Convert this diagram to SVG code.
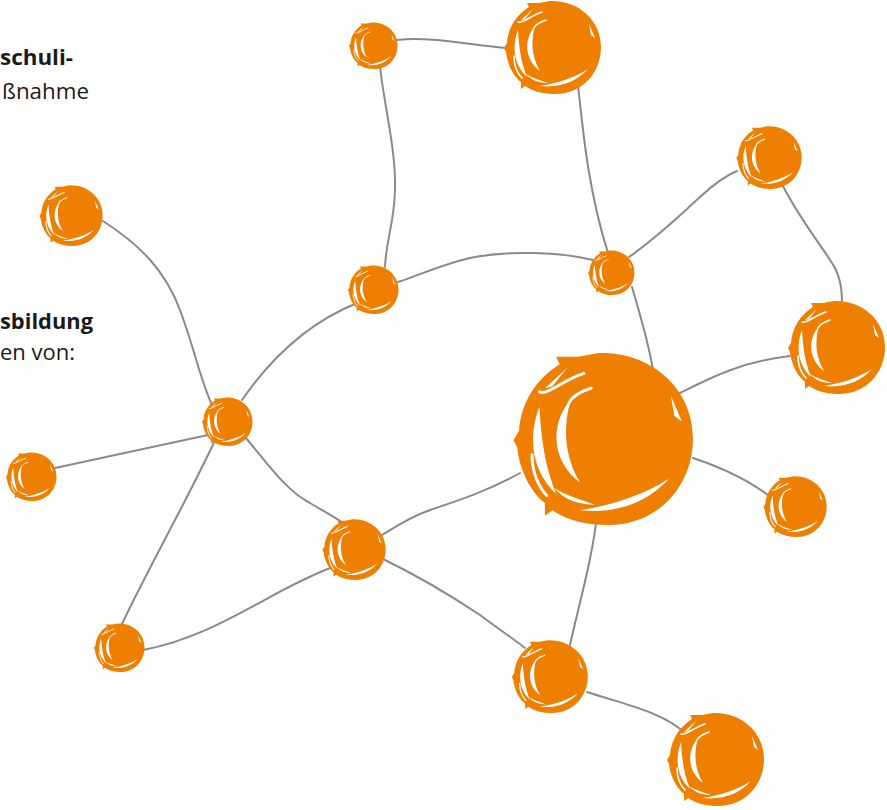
<svg xmlns="http://www.w3.org/2000/svg" xmlns:xlink="http://www.w3.org/1999/xlink" width="887" height="810" viewBox="0 0 887 810">
<style>
.txt{font-family:"Open Sans",Lato,"Liberation Sans",sans-serif;font-size:21px;fill:#1a1a1a}
.b{font-weight:700}
.edge{fill:none;stroke:#8a8a8a;stroke-width:2;stroke-linecap:round}
.body{fill:#EF7F00}
.hl{fill:#ffffff}
.arc{fill:none;stroke:#ffffff;stroke-width:1.6;stroke-linecap:round}
</style>
<defs>
<g id="blob">
<path class="body" d="M -4,-47 C 24,-48 47,-28 47,-1 C 47,25 28,46 1,46 C -10,46 -20,44 -29,38 L -33,41 L -33,34 C -42,27 -47,14 -48,4 L -50,0 L -47,-5 C -46,-20 -38,-33 -25,-41 L -27,-45 L -15,-45 Z"/>
<path class="hl" d="M -36,-18 C -43,0 -39,18 -27,29 C -33,14 -35,0 -36,-18 Z"/>
<path class="hl" d="M -19,-22 C -31,-8 -29,12 -14,23 C -23,8 -23,-8 -19,-22 Z"/>
<path class="hl" d="M -14,38 C 6,40 22,34 34,21 C 20,30 4,35 -14,38 Z"/>
<path class="hl" d="M -33,-28 L -21,-39 L -29,-29 Z"/>
<path class="hl" d="M 35,-24 L 41,-10 L 37,-13 Z"/>
<path class="hl" d="M -28,26 C -22,33 -14,35 -6,35 C -14,32 -22,30 -28,26 Z"/>
<path class="arc" d="M -12,-36 C -24,-32 -32,-24 -36,-26"/>
<path class="arc" d="M -40,8 C -40,18 -36,26 -32,30"/>
<path class="arc" d="M -8,-28 C -14,-26 -18,-24 -20,-20"/>
</g>
</defs>

<g id="text">
<text class="txt b" x="0" y="65" textLength="73" lengthAdjust="spacingAndGlyphs">schuli-</text>
<text class="txt" x="2" y="99" textLength="87" lengthAdjust="spacingAndGlyphs">ßnahme</text>
<text class="txt b" x="0" y="329" textLength="93" lengthAdjust="spacingAndGlyphs">sbildung</text>
<text class="txt" x="0" y="360" textLength="75" lengthAdjust="spacingAndGlyphs">en von:</text>
</g>

<g id="connectors">
<path class="edge" d="M397,40 C430,36 470,45 507,48"/>
<path class="edge" d="M380,67 C385,110 396,150 395,190 C394,225 386,240 385,267"/>
<path class="edge" d="M578,85 C583,130 588,190 608,253"/>
<path class="edge" d="M398,282 C420,275 440,265 470,258 C510,250 560,252 593,260"/>
<path class="edge" d="M629,257 C660,235 680,215 700,197 C715,183 725,176 737,171"/>
<path class="edge" d="M783,186 C800,220 825,250 835,268 C842,282 842,295 842,308"/>
<path class="edge" d="M632,287 C640,315 648,340 653,370"/>
<path class="edge" d="M680,393 C710,378 740,362 790,356"/>
<path class="edge" d="M693,458 C720,467 745,478 768,495"/>
<path class="edge" d="M520,473 C490,490 460,500 430,510 C410,517 395,527 382,535"/>
<path class="edge" d="M597,515 C592,560 580,600 570,645"/>
<path class="edge" d="M383,559 C420,577 450,595 480,615 C500,630 515,640 525,648"/>
<path class="edge" d="M587,692 C620,703 665,712 687,735"/>
<path class="edge" d="M357,303 C320,318 280,345 242,400"/>
<path class="edge" d="M103,221 C140,245 165,270 180,310 C195,350 200,380 213,407"/>
<path class="edge" d="M208,435 L55,468"/>
<path class="edge" d="M215,440 C195,485 150,565 122,624"/>
<path class="edge" d="M245,437 C265,460 285,490 310,503 C325,512 335,517 343,523"/>
<path class="edge" d="M333,567 C270,590 220,635 143,650"/>
</g>

<g id="n1"><use href="#blob" transform="translate(374,46) scale(0.5)"/></g>
<g id="n2"><use href="#blob" transform="translate(554,48) scale(1)"/></g>
<g id="n3"><use href="#blob" transform="translate(770,158) scale(0.674)"/></g>
<g id="n4"><use href="#blob" transform="translate(72,216) scale(0.652)"/></g>
<g id="n5"><use href="#blob" transform="translate(374,290) scale(0.522)"/></g>
<g id="n6"><use href="#blob" transform="translate(612,273) scale(0.478)"/></g>
<g id="n7"><use href="#blob" transform="translate(838,348) scale(1)"/></g>
<g id="n8"><use href="#blob" transform="translate(606,440) scale(1.85)"/></g>
<g id="n9"><use href="#blob" transform="translate(228,422) scale(0.522)"/></g>
<g id="n10"><use href="#blob" transform="translate(32,477) scale(0.522)"/></g>
<g id="n11"><use href="#blob" transform="translate(796,507) scale(0.652)"/></g>
<g id="n12"><use href="#blob" transform="translate(355,550) scale(0.652)"/></g>
<g id="n13"><use href="#blob" transform="translate(120,648) scale(0.522)"/></g>
<g id="n14"><use href="#blob" transform="translate(551,677) scale(0.783)"/></g>
<g id="n15"><use href="#blob" transform="translate(717,760) scale(1)"/></g>
</svg>
